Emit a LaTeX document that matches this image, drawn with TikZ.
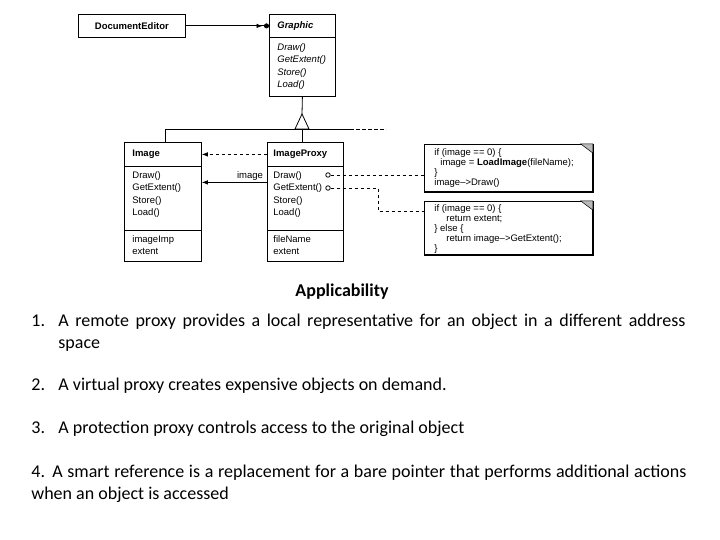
\documentclass[tikz,border=0pt]{standalone}
\usepackage{fontspec}
\setmainfont{Carlito}
\newfontfamily\diagfam{Liberation Sans}
\usetikzlibrary{arrows.meta}
\tolerance=9999
\hyphenpenalty=10000
\newcommand{\dgfont}{\diagfam\fontsize{9.5}{12.5}\selectfont}
\newcommand{\ntfont}{\diagfam\fontsize{9.5}{10}\selectfont}
\tikzset{
  cls/.style={draw, anchor=north west, inner sep=0pt},
  hdr/.style={cls, inner xsep=8pt, align=left, font=\dgfont\bfseries},
  mem/.style={anchor=north west, inner sep=0pt, align=left, font=\dgfont},
  notebox/.style={draw, anchor=north west, inner sep=0pt},
  ntext/.style={anchor=north west, inner sep=0pt, align=left, font=\ntfont},
  dsh/.style={dash pattern=on 3.5pt off 2.5pt},
  arr/.style={-{Latex[length=6pt,width=4.5pt]}},
  circ/.style={circle, draw, inner sep=0pt, minimum size=4.5pt, fill=white},
  bodytext/.style={anchor=base west, inner sep=0pt, font=\fontsize{18}{22}\selectfont}
}
\begin{document}
\begin{tikzpicture}[x=1pt,y=-1pt,line width=0.8pt]
\fill[white] (0,0) rectangle (720,540);
\useasboundingbox (0,0) rectangle (720,540);

% DocumentEditor
\node[cls, minimum width=107pt, minimum height=23pt, font=\dgfont\bfseries] (de) at (78,14) {DocumentEditor};
% Graphic
\node[hdr, text width=50pt, minimum height=23pt, font=\dgfont\bfseries\itshape] (gh) at (269,14) {Graphic};
\node[cls, minimum width=66pt, minimum height=59pt] (gb) at (269,37) {};
\node[mem, font=\dgfont\itshape] (gm) at ([xshift=8pt,yshift=-6pt]gb.north west) {Draw()\\GetExtent()\\Store()\\Load()};
% Image
\node[hdr, text width=61pt, minimum height=24pt] (ih) at (124,142) {Image};
\node[cls, minimum width=77pt, minimum height=64pt] (ib) at (124,166) {};
\node[cls, minimum width=77pt, minimum height=31pt] (ia) at (124,230) {};
\node[mem] (im) at ([xshift=8pt,yshift=-5pt]ib.north west) {Draw()\\GetExtent()\\Store()\\Load()};
\node[mem] (iat) at ([xshift=8pt,yshift=-5pt]ia.north west) {imageImp\\extent};
% ImageProxy
\node[hdr, inner xsep=6pt, text width=64pt, minimum height=24pt] (ph) at (267,142) {ImageProxy};
\node[cls, minimum width=76pt, minimum height=64pt] (pb) at (267,166) {};
\node[cls, minimum width=76pt, minimum height=31pt] (pa) at (267,230) {};
\node[mem] (pm) at ([xshift=6pt,yshift=-5pt]pb.north west) {Draw()\\GetExtent()\\Store()\\Load()};
\node[mem] (pat) at ([xshift=6pt,yshift=-5pt]pa.north west) {fileName\\extent};

% notes
\node[notebox, minimum width=168pt, minimum height=47pt] (n1) at (424,144) {};
\node[notebox, minimum width=168pt, minimum height=53pt] (n2) at (424,201) {};
\foreach \n in {n1,n2}{
  \draw[line width=1.6pt] (\n.north east) -- (\n.south east) -- (\n.south west);
  \filldraw[fill=gray!55, line width=0.5pt] ([xshift=-12pt]\n.north east) -- (\n.north east) -- ([yshift=-9pt]\n.north east) -- cycle;
}
\node[ntext] (t1) at ([xshift=10pt,yshift=-4.5pt]n1.north west)
  {if (image == 0) \{\\\hspace*{6pt}image = \textbf{LoadImage}(fileName);\\\}\\image\textendash>Draw()};
\node[ntext] (t2) at ([xshift=10pt,yshift=-3.5pt]n2.north west)
  {if (image == 0) \{\\\hspace*{12pt}return extent;\\\} else \{\\\hspace*{12pt}return image\textendash>GetExtent();\\\}};

% association DocumentEditor -> Graphic
\draw[-{Latex[length=6pt,width=4.5pt,sep=1.5pt]Circle[length=5pt]}] (de.east) -- (gh.west);

% inheritance
\coordinate (apex) at (302,114);
\coordinate (tb) at (302,129);
\coordinate (hl) at (165,129);
\coordinate (hr) at (350,129);
\coordinate (hd) at (386,129);
\draw (gb.south) -- (apex);
\draw[fill=white] (apex) -- ++(-7,15) -- ++(14,0) -- cycle;
\draw (hl) -- (hr);
\draw[dsh] (hr) -- (hd);
\draw (hl) -- (hl |- ih.north);
\draw (tb) -- (tb |- ph.north);

% proxy -> image
\draw[arr, dsh] (ph.west) -- (ih.east);
\draw[arr] ([yshift=16pt]pb.west) -- ([yshift=16pt]ib.east)
  node[pos=0.26, above, inner sep=1.5pt, font=\dgfont] (lbl) {image};

% implementation notes
\node[circ] (c1) at (328,175) {};
\node[circ] (c2) at (328,188) {};
\coordinate (k1) at (378,188);
\coordinate (k2) at (378,211);
\draw[dsh] (c1.east) -- (c1 -| n1.west);
\draw[dsh] (c2.east) -- (k1) -- (k2) -- (k2 -| n2.west);

% text
\node[anchor=base, inner sep=0pt, font=\fontsize{18}{22}\selectfont\bfseries] (ttl) at (342,296) {Applicability};
\node[bodytext] (num1) at (31,326) {1.};
\node[bodytext, text width=627pt, align=justify] (it1) at (58,326) {A remote proxy provides a local representative for an object in a different address\linebreak space};
\node[bodytext] (num2) at (31,390) {2.};
\node[bodytext] (it2) at (58,390) {A virtual proxy creates expensive objects on demand.};
\node[bodytext] (num3) at (31,433) {3.};
\node[bodytext] (it3) at (58,433) {A protection proxy controls access to the original object};
\node[bodytext, text width=655pt, align=justify] (it4) at (31,477) {4. A smart reference is a replacement for a bare pointer that performs additional actions\linebreak when an object is accessed};
\end{tikzpicture}
\end{document}
